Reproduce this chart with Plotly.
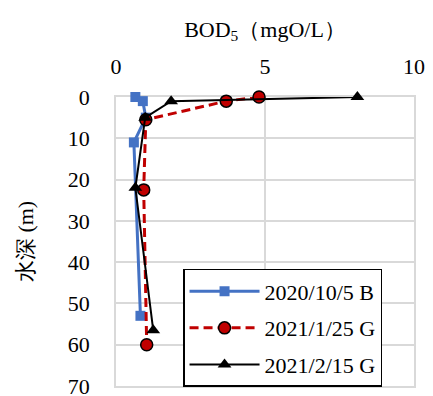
import plotly.graph_objects as go

# Data
blue_depth = [0, 1, 5, 11, 53]
blue_bod = [0.65, 0.9, 1.0, 0.6, 0.82]

red_depth = [0, 1, 5.5, 22.5, 60]
red_bod = [4.8, 3.7, 1.0, 0.93, 1.03]

black_depth = [0, 1, 5, 22, 56.5]
black_bod = [8.1, 1.85, 0.98, 0.65, 1.25]

names = ["2020/10/5 B", "2021/1/25 G", "2021/2/15 G"]
x_ticks = [0, 5, 10]
y_ticks = [0, 10, 20, 30, 40, 50, 60, 70]

font_fam = "Liberation Serif"
fs = 22

fig = go.Figure()
fig.add_trace(go.Scatter(
    x=blue_bod, y=blue_depth, name=names[0], mode="lines+markers",
    legendgroup="a", cliponaxis=False,
    line=dict(color="#4472C4", width=3),
    marker=dict(symbol="square", size=10, color="#4472C4"),
))
fig.add_trace(go.Scatter(
    x=red_bod, y=red_depth, name=names[1], mode="lines+markers",
    legendgroup="b", cliponaxis=False,
    line=dict(color="#C00000", width=3, dash="9px,5px"),
    marker=dict(symbol="circle", size=12, color="#C00000",
                line=dict(color="black", width=1.5)),
))
fig.add_trace(go.Scatter(
    x=black_bod, y=black_depth, name=names[2], mode="lines+markers",
    legendgroup="c", cliponaxis=False,
    line=dict(color="black", width=2),
    marker=dict(symbol="triangle-up", size=12, color="black"),
))

fig.update_layout(
    width=425, height=388,
    margin=dict(l=108, r=19, t=89, b=10, autoexpand=False),
    paper_bgcolor="white", plot_bgcolor="white",
    font=dict(family=font_fam, size=fs, color="black"),
    showlegend=True,
    legend=dict(
        x=0.225, y=0.405, xanchor="left", yanchor="top",
        bgcolor="white", bordercolor="black", borderwidth=1.5,
        font=dict(family=font_fam, size=fs, color="black"),
        itemwidth=70, tracegroupgap=5,
    ),
    xaxis=dict(
        side="top", range=[0, 10], tickvals=x_ticks, automargin=False,
        layer="below traces",
        showgrid=True, gridcolor="#d9d9d9", gridwidth=1.5,
        showline=True, linecolor="#d9d9d9", linewidth=1.5, mirror=True,
        zeroline=False, ticks="", ticklen=0, ticklabeloverflow="allow",
        ticklabelstandoff=12,
        title=dict(text="BOD<sub>5</sub>（mgO/L）", standoff=11,
                   font=dict(family=font_fam, size=fs)),
        tickfont=dict(family=font_fam, size=fs),
    ),
    yaxis=dict(
        range=[70, 0], tickvals=y_ticks, automargin=False,
        layer="below traces",
        showgrid=True, gridcolor="#d9d9d9", gridwidth=1.5,
        showline=True, linecolor="#d9d9d9", linewidth=1.5, mirror=True,
        zeroline=False, ticks="", ticklabeloverflow="allow",
        ticklabelstandoff=20,
        title=dict(text="水深 (m)", standoff=28,
                   font=dict(family=font_fam, size=fs)),
        tickfont=dict(family=font_fam, size=fs),
    ),
)

fig.write_html("out.html")
